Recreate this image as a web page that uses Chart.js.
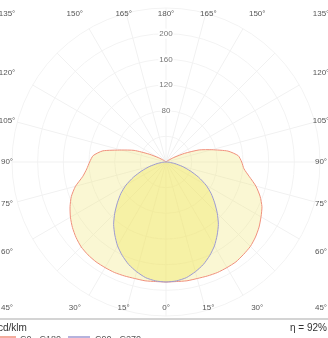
<!DOCTYPE html>
<html><head><meta charset="utf-8">
<script src="https://cdn.jsdelivr.net/npm/chart.js@4.4.1/dist/chart.umd.min.js"></script>
<style>html,body{margin:0;padding:0;background:#fff;overflow:hidden}canvas{display:block}</style>
</head><body>
<canvas id="c" width="328" height="338"></canvas>
<script>
// gamma angles (deg from nadir)
const gamma = [0,5,10,15,20,25,30,35,40,45,50,55,60,65,70,75,80,85,90,95,100,105,110,115,120,125,130,135,140,145,150,155,160,165,170,175,180];
// luminous intensity cd/klm
const c0   = [187,187,188,188,189,190,190,190,188,186,182,177,171,165,156,145,132,122,118,113,98,74,55,32,14,5,1,0,0,0,0,0,0,0,0,0,0];
const c180 = [187,187,188,188,189,190,190,190,189,187,183,178,172,165,157,146,132,124,119,114,100,72,53,29,13,5,1,0,0,0,0,0,0,0,0,0,0];
const c90  = [187,186,183,177,170,161,151,139,127,113,99,86,72,56,40,26,14,5,0,0,0,0,0,0,0,0,0,0,0,0,0,0,0,0,0,0,0];
const c270 = [187,186,183,177,170,161,151,139,127,113,99,86,72,56,40,26,14,5,0,0,0,0,0,0,0,0,0,0,0,0,0,0,0,0,0,0,0];
const ringTicks = [80,120,160,200];
const topAngles = [135,150,165,180,165,150,135];
const sideAngles = [120,105,90,75,60];
const bottomAngles = [45,30,15,0,15,30,45];
const unitLabel = 'cd/klm';
const efficiencyLabel = 'η = 92%';
const seriesNames = ['C0 - C180','C90 - C270'];
const seriesColors = ['#f0907c','#9c9ad2'];

// order values clockwise from top: right half 180->0, then left half 5->175
function around(right, left){
  const out=[];
  for(let i=gamma.length-1;i>=0;i--) out.push(right[i]);
  for(let i=1;i<gamma.length-1;i++) out.push(left[i]);
  return out;
}
const labels = around(gamma, gamma).map(g => g + '°');

Chart.defaults.font.family = '"Liberation Sans", Arial, sans-serif';

const framePlugin = {
  id:'frame',
  afterDraw(chart){
    const s = chart.scales.r, ctx = chart.ctx;
    const cx = s.xCenter, cy = s.yCenter;
    const kx = 158, ky = 155, topY = cy - 148, botY = cy + 146;
    const rad = Math.PI/180;
    ctx.save();
    ctx.font = '8px "Liberation Sans", Arial, sans-serif';
    ctx.fillStyle = '#555';
    ctx.textAlign = 'center';
    ctx.textBaseline = 'middle';
    const edgeX = sign => (sign < 0 ? cx - 159 : cx + 155);
    topAngles.forEach((a,i)=>{
      const sign = i<3 ? -1 : (i>3 ? 1 : 0);
      const x = (a === 135) ? edgeX(sign) : cx + sign*kx*Math.tan((180-a)*rad);
      ctx.fillText(a+'°', x, topY);
    });
    bottomAngles.forEach((a,i)=>{
      const sign = i<3 ? -1 : (i>3 ? 1 : 0);
      const x = (a === 45) ? edgeX(sign) : cx + sign*kx*Math.tan(a*rad);
      ctx.fillText(a+'°', x, botY);
    });
    sideAngles.forEach(a=>{
      const y = cy - ky*Math.tan((a-90)*rad);
      ctx.fillText(a+'°', edgeX(-1), y);
      ctx.fillText(a+'°', edgeX(1), y);
    });
    // footer
    ctx.strokeStyle = '#c6c6c6';
    ctx.lineWidth = 1.5;
    ctx.beginPath(); ctx.moveTo(0,319); ctx.lineTo(328,319); ctx.stroke();
    ctx.fillStyle = '#333';
    ctx.font = '10px "Liberation Sans", Arial, sans-serif';
    ctx.textAlign = 'left';
    ctx.fillText(unitLabel, -2, 328);
    ctx.textAlign = 'right';
    ctx.fillText(efficiencyLabel, 327, 328);
    // legend
    ctx.font = '9px "Liberation Sans", Arial, sans-serif';
    ctx.textAlign = 'left';
    ctx.fillStyle = '#555';
    ctx.lineWidth = 1.5;
    ctx.strokeStyle = seriesColors[0];
    ctx.beginPath(); ctx.moveTo(-2,337); ctx.lineTo(16,337); ctx.stroke();
    ctx.fillText(seriesNames[0], 20, 340);
    ctx.strokeStyle = seriesColors[1];
    ctx.beginPath(); ctx.moveTo(68,337); ctx.lineTo(90,337); ctx.stroke();
    ctx.fillText(seriesNames[1], 95, 340);
    ctx.restore();
  }
};

new Chart(document.getElementById('c'), {
  type:'radar',
  data:{
    labels,
    datasets:[
      {label:seriesNames[1], data:around(c90,c270), borderColor:seriesColors[1], backgroundColor:'rgba(240,232,100,0.42)',
       borderWidth:1, fill:true, pointRadius:0, tension:0.2, order:0},
      {label:seriesNames[0], data:around(c0,c180), borderColor:seriesColors[0], backgroundColor:'rgba(240,232,120,0.33)',
       borderWidth:1, fill:true, pointRadius:0, tension:0.2, order:1}
    ]
  },
  options:{
    responsive:false,
    animation:false,
    layout:{padding:{left:7, top:3, right:3, bottom:17}},
    plugins:{legend:{display:false}, tooltip:{enabled:false}},
    scales:{
      r:{
        min:0, max:240, startAngle:0,
        ticks:{
          stepSize:40,
          font:{size:8},
          color:'#777',
          backdropPadding:1,
          backdropColor:'#fff',
          showLabelBackdrop: c => ringTicks.includes(c.tick.value),
          callback: v => ringTicks.includes(v) ? String(v) : ''
        },
        grid:{circular:true, color:'#f3f3f3'},
        angleLines:{color:'#f1f1f1', lineWidth: c => (c.index % 3 === 0 ? 1 : 0)},
        pointLabels:{display:false}
      }
    }
  },
  plugins:[framePlugin]
});
</script>
</body></html>
